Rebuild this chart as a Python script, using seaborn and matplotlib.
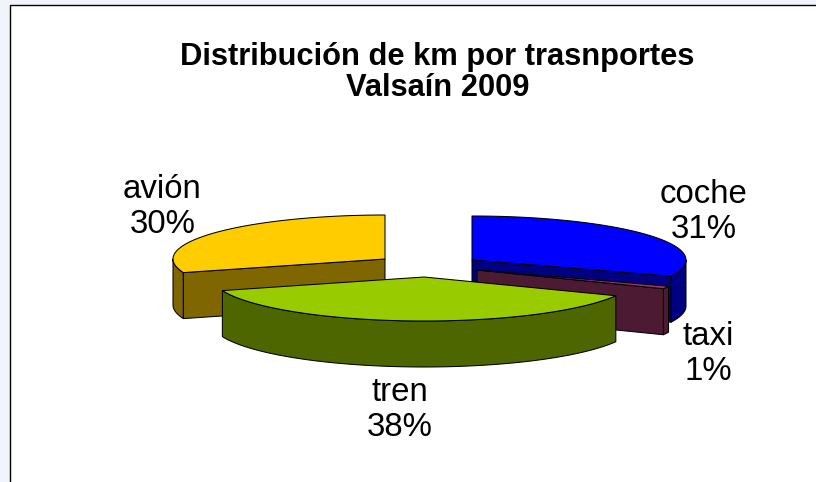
import numpy as np
import pandas as pd
import seaborn as sns
import matplotlib
matplotlib.use("Agg")
import matplotlib.pyplot as plt
from matplotlib.patches import Rectangle

categories = ["coche", "taxi", "tren", "avión"]
shares = [31, 1, 38, 30]
title_lines = ["Distribución de km por trasnportes", "Valsaín 2009"]
top_colors = ["#0000FF", "#993366", "#99CC00", "#FFCC00"]
side_colors = ["#000080", "#4D1A33", "#4D6600", "#806600"]

sns.set_theme(style="white")
plt.rcParams["font.family"] = ["Liberation Sans", "DejaVu Sans"]

W, H = 816, 482
fig = plt.figure(figsize=(W / 100, H / 100), dpi=100, facecolor="#F0F4FB")
ax = fig.add_axes([0, 0, 1, 1])
ax.set_xlim(0, W)
ax.set_ylim(H, 0)
ax.axis("off")
ax.add_patch(Rectangle((10, 5), W, H, fc="white", ec="black", lw=1.0, zorder=0))

df = pd.DataFrame({"cat": categories, "share": shares, "top": top_colors, "side": side_colors})
df["end"] = df["share"].cumsum() / df["share"].sum() * 2 * np.pi
df["start"] = df["end"] - df["share"] / df["share"].sum() * 2 * np.pi

# exploded-slice apexes and radii, in pixels
apex = {"coche": (472, 260), "taxi": (477, 270), "tren": (424, 277), "avión": (385, 259)}
radius = {"coche": (214, 44), "taxi": (206, 44), "tren": (212, 44), "avión": (212, 44)}
depth = 46
label_pos = {"coche": (703.5, 212), "taxi": (708, 354), "tren": (400, 410), "avión": (162.5, 207)}


def rim(c, r, a0, a1, n=80):
    t = np.linspace(a0, a1, n)
    return c[0] + r[0] * np.sin(t), c[1] - r[1] * np.cos(t)


def poly(x, y, color, z):
    ax.fill(x, y, facecolor=color, edgecolor="black", lw=0.75, joinstyle="round", zorder=z)


order = ["avión", "coche", "taxi", "tren"]
for z, name in enumerate(order, start=1):
    s = df[df["cat"] == name].iloc[0]
    c, r = apex[name], radius[name]
    xr, yr = rim(c, r, s["start"], s["end"])

    # outer wall: the part of the rim facing the viewer
    lo, hi = max(s["start"], np.pi / 2), min(s["end"], 3 * np.pi / 2)
    if hi > lo:
        xw, yw = rim(c, r, lo, hi)
        poly(np.r_[xw, xw[::-1]], np.r_[yw, yw[::-1] + depth], s["side"], z)

    # cut faces that can be seen from the front
    for a in (s["start"], s["end"]):
        px, py = rim(c, r, a, a, 1)
        if (name == "coche" and a == s["end"]) or (name == "taxi" and a == s["end"]) \
                or (name == "avión" and a == s["start"]):
            poly([c[0], px[0], px[0], c[0]],
                 [c[1], py[0], py[0] + depth, c[1] + depth], s["side"], z)

    poly(np.r_[c[0], xr], np.r_[c[1], yr], s["top"], z + 0.5)

    ax.text(*label_pos[name], f"{name}\n{s['share']}%", ha="center", va="center",
            fontsize=23.8, color="black", linespacing=1.14, zorder=10)

ax.text(437.5, 72.5, "\n".join(title_lines), ha="center", va="center", fontsize=22.2,
        fontweight="bold", color="black", linespacing=1.05, zorder=10)

fig.savefig("out.png", dpi=100, facecolor=fig.get_facecolor())
